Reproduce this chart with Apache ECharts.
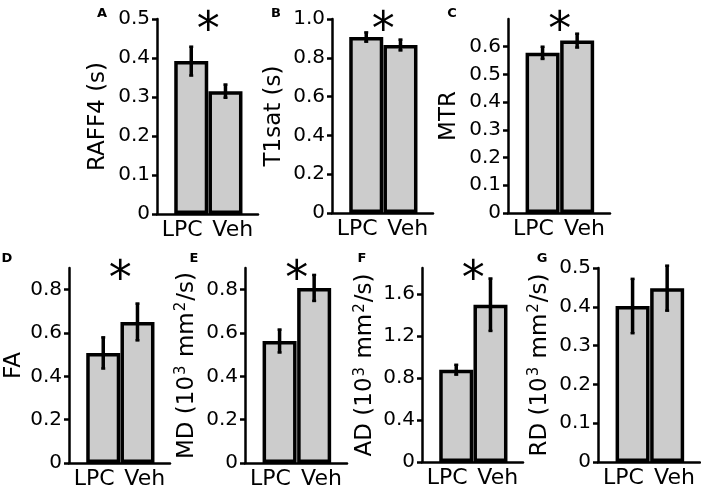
<!DOCTYPE html>
<html>
<head>
<meta charset="utf-8">
<script src="https://cdn.jsdelivr.net/npm/echarts@6/dist/echarts.min.js"></script>
<style>
html, body { margin: 0; padding: 0; background: #fff; }
#main { width: 701px; height: 489px; }
</style>
</head>
<body>
<div id="main"></div>
<script>
// data
var groups = ['LPC', 'Veh'];
var panelLetters = ['A', 'B', 'C', 'D', 'E', 'F', 'G'];
var yNames = [
	'{n|RAFF4 (s)}',
	'{n|T1sat (s)}',
	'{n|MTR}',
	'{n|FA}',
	'{n|MD (10}{s|3}{n| mm}{s|2}{n|/s)}',
	'{n|AD (10}{s|3}{n| mm}{s|2}{n|/s)}',
	'{n|RD (10}{s|3}{n| mm}{s|2}{n|/s)}'
];
var lpcMean = [0.392, 0.907, 0.578, 0.508, 0.563, 0.880, 0.402];
var vehMean = [0.315, 0.866, 0.622, 0.651, 0.808, 1.500, 0.448];
var lpcErr = [0.037, 0.024, 0.022, 0.072, 0.053, 0.047, 0.070];
var vehErr = [0.017, 0.028, 0.025, 0.085, 0.060, 0.250, 0.058];
var yMax = [0.5, 1.0, 0.7, 0.9, 0.9, 1.85, 0.5];
var yTicks = [
	[0, 0.1, 0.2, 0.3, 0.4, 0.5],
	[0, 0.2, 0.4, 0.6, 0.8, 1.0],
	[0, 0.1, 0.2, 0.3, 0.4, 0.5, 0.6],
	[0, 0.2, 0.4, 0.6, 0.8],
	[0, 0.2, 0.4, 0.6, 0.8],
	[0, 0.4, 0.8, 1.2, 1.6],
	[0, 0.1, 0.2, 0.3, 0.4, 0.5]
];
var significant = [true, true, true, true, true, true, false];

// layout (pixels)
var boxes = [
	[157, 19, 101, 195],
	[332, 19, 101, 194],
	[508, 19, 102, 194],
	[69, 268, 101, 195],
	[245, 268, 102, 195],
	[422, 268, 101, 194],
	[598, 268, 102, 194]
];
var nameGaps = [46, 45, 46, 42, 45, 38, 45];
var letterPos = [[102, 14], [276, 14], [452, 14], [7, 259], [194, 259], [362, 259], [542, 259]];

var FONT = 'DejaVu Sans';
var chart = echarts.init(document.getElementById('main'), null, { renderer: 'canvas' });

var grid = [], xAxis = [], yAxis = [], series = [];
for (var i = 0; i < boxes.length; i++) {
	var b = boxes[i];
	grid.push({ left: b[0], top: b[1], width: b[2], height: b[3], containLabel: false, outerBoundsMode: 'none' });
	// value axis carrying the bars (bars at x=1 and x=2)
	xAxis.push({
		type: 'value', gridIndex: i, min: 0, max: 2.95,
		axisLine: { show: true, onZero: false, lineStyle: { color: '#000', width: 2.5 } },
		axisTick: { show: false }, axisLabel: { show: false }, splitLine: { show: false }
	});
	// category axis for the group labels
	xAxis.push({
		type: 'category', gridIndex: i, data: groups, position: 'bottom',
		axisLine: { show: false }, axisTick: { show: false }, splitLine: { show: false },
		axisLabel: { color: '#000', fontFamily: FONT, fontSize: 22, margin: 5, interval: 0 }
	});
	yAxis.push({
		type: 'value', gridIndex: i, min: 0, max: yMax[i],
		name: yNames[i], nameLocation: 'middle', nameGap: nameGaps[i],
		nameTextStyle: {
			color: '#000', fontFamily: FONT, fontSize: 23,
			rich: {
				n: { color: '#000', fontFamily: FONT, fontSize: 23, lineHeight: 26 },
				s: { color: '#000', fontFamily: FONT, fontSize: 15, lineHeight: 26, verticalAlign: 'top', padding: [0, 1, 12, 1] }
			}
		},
		axisLine: { show: true, lineStyle: { color: '#000', width: 2.5 } },
		axisTick: { show: true, length: 5, customValues: yTicks[i], lineStyle: { color: '#000', width: 2.5 } },
		axisLabel: {
			color: '#000', fontFamily: FONT, fontSize: 20, margin: 7, customValues: yTicks[i],
			formatter: function (v) { return v === 0 ? '0' : v.toFixed(1); }
		},
		splitLine: { show: false }
	});
	series.push({
		type: 'bar', xAxisIndex: i * 2, yAxisIndex: i,
		barWidth: 34,
		itemStyle: { color: '#cccccc', borderColor: '#000', borderWidth: 3.5 },
		data: [[1, lpcMean[i]], [2, vehMean[i]]],
		silent: true
	});
	series.push({
		type: 'custom', xAxisIndex: i * 2, yAxisIndex: i, z: 5,
		encode: { x: 0, y: 1 },
		data: [[1, lpcMean[i], lpcErr[i]], [2, vehMean[i], vehErr[i]]],
		renderItem: function (params, api) {
			var x = api.value(0), m = api.value(1), e = api.value(2);
			var hi = api.coord([x, m + e]), lo = api.coord([x, m - e]);
			return {
				type: 'group',
				children: [
					{ type: 'line', shape: { x1: hi[0], y1: hi[1], x2: lo[0], y2: lo[1] }, style: { stroke: '#000', lineWidth: 3.5 } },
					{ type: 'line', shape: { x1: hi[0] - 2, y1: hi[1], x2: hi[0] + 2, y2: hi[1] }, style: { stroke: '#000', lineWidth: 2.5 } },
					{ type: 'line', shape: { x1: lo[0] - 2, y1: lo[1], x2: lo[0] + 2, y2: lo[1] }, style: { stroke: '#000', lineWidth: 2.5 } }
				]
			};
		},
		silent: true
	});
}

chart.setOption({
	backgroundColor: '#fff',
	animation: false,
	grid: grid,
	xAxis: xAxis,
	yAxis: yAxis,
	series: series
});

// panel letters and significance stars
var graphics = [];
for (var j = 0; j < panelLetters.length; j++) {
	graphics.push({
		type: 'text', x: letterPos[j][0], y: letterPos[j][1],
		style: { text: panelLetters[j], fill: '#000', font: 'bold 13px "DejaVu Sans"', textAlign: 'center', textVerticalAlign: 'middle' }
	});
	if (significant[j]) {
		var p = chart.convertToPixel({ xAxisIndex: j * 2, yAxisIndex: j }, [1.5, yMax[j]]);
		graphics.push({
			type: 'text', x: p[0], y: p[1] + 13,
			style: { text: '*', fill: '#000', font: '46px "DejaVu Sans"', textAlign: 'center', textVerticalAlign: 'middle' }
		});
	}
}
chart.setOption({ graphic: graphics });
</script>
</body>
</html>
